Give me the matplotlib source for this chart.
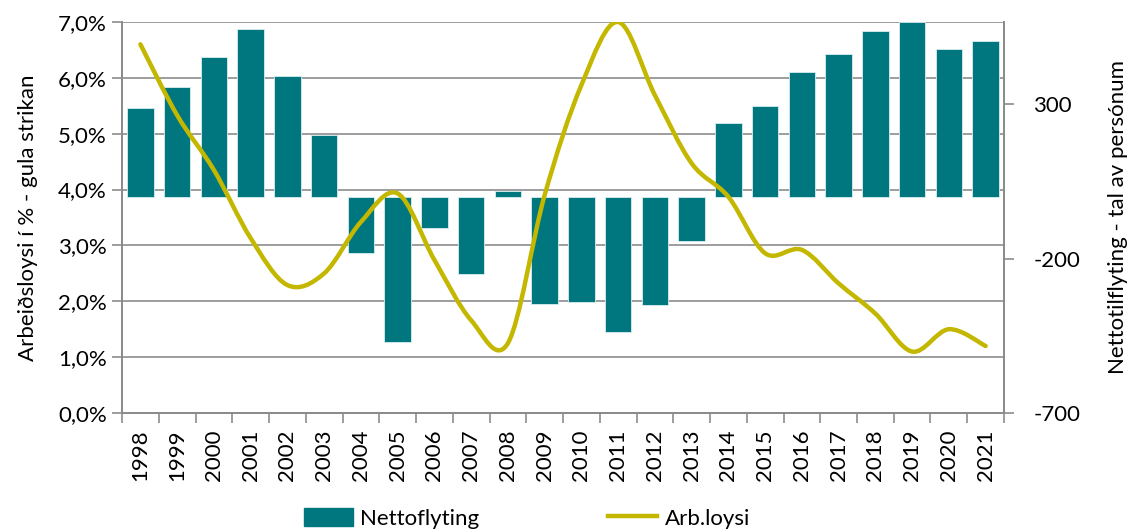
import numpy as np
import matplotlib
matplotlib.use("Agg")
import matplotlib.pyplot as plt
from matplotlib.path import Path
from matplotlib.patches import PathPatch, Patch
from matplotlib.lines import Line2D

years = [str(y) for y in range(1998, 2022)]
nettoflyting = [288, 356, 452, 543, 392, 200, -182, -471, -101, -250, 18, -346,
                -341, -438, -351, -142, 240, 294, 406, 463, 537, 566, 481, 505]
arbloysi = [6.60, 5.33, 4.35, 3.13, 2.29, 2.50, 3.42, 3.93, 2.74, 1.66, 1.25, 3.90,
            5.87, 7.00, 5.69, 4.47, 3.87, 2.86, 2.92, 2.32, 1.78, 1.10, 1.50, 1.20]

teal = "#00767f"
yellow = "#c3b700"
grey = "#8c8c8c"
plt.rcParams['font.family'] = ['Lato', 'DejaVu Sans']
fs = 16

fig = plt.figure(figsize=(11.31, 5.31), dpi=100)
ax = fig.add_axes([0.1079, 0.2222, 0.7798, 0.7364])
axb = ax.twinx()
axl = ax.twinx()

x = np.arange(len(years))

# left axis: percent, grid
ax.set_ylim(0, 7)
ax.set_yticks(np.arange(0, 8))
ax.set_yticklabels(["%d,0%%" % v for v in range(8)], fontsize=fs)
ax.yaxis.grid(True, color=grey, lw=1.2)
ax.set_axisbelow(True)
ax.set_ylabel("Arbeiðsloysi í % - gula strikan", fontsize=fs, labelpad=14)
ax.set_xlim(-0.5, len(years) - 0.5)
ax.set_xticks(x)
ax.set_xticklabels(years, rotation=90, fontsize=fs)
ax.set_xticks(np.arange(-0.5, len(years)), minor=True)
ax.tick_params(axis='x', which='major', length=0, pad=12)
ax.tick_params(axis='x', which='minor', length=7, color=grey, width=1.2)
ax.tick_params(axis='y', length=7, color=grey, width=1.2, pad=4)

# right axis: bars
axb.bar(x, nettoflyting, width=0.72, color=teal, edgecolor="#d8eef0", linewidth=0.6, zorder=2)
axb.set_ylim(-700, 567)
axb.set_yticks([-700, -200, 300])
axb.set_yticklabels(["-700", "-200", "300"], fontsize=fs)
axb.tick_params(axis='y', length=7, color=grey, width=1.2, pad=14)
axb.set_ylabel("Nettotilflyting - tal av persónum", fontsize=fs, labelpad=20)

# smoothed line on top
axl.set_ylim(0, 7)
axl.set_yticks([])
pts = np.column_stack([x, arbloysi]).astype(float)
verts = [pts[0]]
codes = [Path.MOVETO]
n = len(pts)
for i in range(n - 1):
    p0 = pts[max(i - 1, 0)]
    p1 = pts[i]
    p2 = pts[i + 1]
    p3 = pts[min(i + 2, n - 1)]
    c1 = p1 + (p2 - p0) / 6.0
    c2 = p2 - (p3 - p1) / 6.0
    verts += [c1, c2, p2]
    codes += [Path.CURVE4] * 3
axl.add_patch(PathPatch(Path(verts, codes), facecolor="none", edgecolor=yellow, lw=3.2,
                        capstyle="round", joinstyle="round"))

for a in (ax, axb, axl):
    a.spines['top'].set_visible(False)
    for s in ('left', 'right', 'bottom'):
        a.spines[s].set_color(grey)
        a.spines[s].set_linewidth(1.2)

handles = [Patch(color=teal), Line2D([0], [0], color=yellow, lw=3.2)]
fig.legend(handles, ["Nettoflyting", "Arb.loysi"], loc="center", bbox_to_anchor=(0.466, 0.024),
           ncol=2, frameon=False, fontsize=fs, handlelength=2.2, handleheight=0.9,
           handletextpad=0.35, columnspacing=5.8, borderpad=0.1)

fig.savefig("out.png", dpi=100)
